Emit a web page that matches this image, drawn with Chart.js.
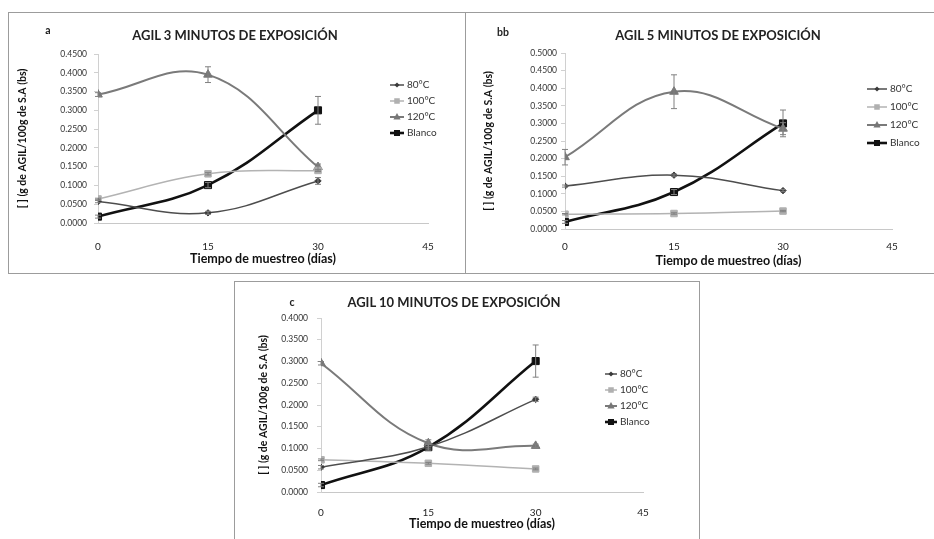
<!DOCTYPE html>
<html>
<head>
<meta charset="utf-8">
<script src="https://cdn.jsdelivr.net/npm/chart.js@4.4.1/dist/chart.umd.min.js"></script>
<style>
  body { margin: 0; background: #fff; width: 934px; height: 539px; overflow: hidden; position: relative; font-family: Lato, sans-serif; }
  .panel { position: absolute; border: 1px solid #9c9c9c; background: #fff; }
  .panel canvas { position: absolute; left: 0; top: 0; }
  .ttl { position: absolute; font-weight: bold; font-size: 13px; color: #222; white-space: nowrap; transform: translate(-50%, -50%); }
  .tag { position: absolute; font-weight: bold; font-size: 10.5px; color: #222; transform: translate(-50%, -50%); }
</style>
</head>
<body>

<div class="panel" style="left:8px; top:12px; width:456px; height:260px;">
  <canvas id="chartA" width="456" height="260"></canvas>
  <div class="tag" style="left:39px; top:17px;">a</div>
  <div class="ttl" style="left:226px; top:22px;">AGIL 3 MINUTOS DE EXPOSICIÓN</div>
</div>

<div class="panel" style="left:465px; top:12px; width:470px; height:260px;">
  <canvas id="chartB" width="470" height="260"></canvas>
  <div class="tag" style="left:37px; top:19px;">bb</div>
  <div class="ttl" style="left:252px; top:22px;">AGIL 5 MINUTOS DE EXPOSICIÓN</div>
</div>

<div class="panel" style="left:234px; top:281px; width:464px; height:262px;">
  <canvas id="chartC" width="464" height="260"></canvas>
  <div class="tag" style="left:57px; top:20px;">c</div>
  <div class="ttl" style="left:219px; top:20px;">AGIL 10 MINUTOS DE EXPOSICIÓN</div>
</div>

<script>
// ---- data ----
const days = [0, 15, 30]
const seriesNames = ["80°C", "100°C", "120°C", "Blanco"]

// a: 3 minutos
const a80 = [0.057, 0.027, 0.112]
const a100 = [0.064, 0.131, 0.140]
const a120 = [0.342, 0.395, 0.149]
const aBlanco = [0.017, 0.101, 0.300]
const a80Err = [0.003, 0.004, 0.009]
const a100Err = [0.002, 0.003, 0.003]
const a120Err = [0.005, 0.021, 0.008]
const aBlancoErr = [0.004, 0.007, 0.037]

// b: 5 minutos
const b80 = [0.122, 0.153, 0.109]
const b100 = [0.042, 0.044, 0.051]
const b120 = [0.204, 0.390, 0.285]
const bBlanco = [0.020, 0.105, 0.300]
const b80Err = [0.003, 0.003, 0.003]
const b100Err = [0.002, 0.002, 0.002]
const b120Err = [0.022, 0.048, 0.017]
const bBlancoErr = [0.004, 0.007, 0.038]

// c: 10 minutos
const c80 = [0.057, 0.104, 0.213]
const c100 = [0.074, 0.066, 0.053]
const c120 = [0.296, 0.112, 0.106]
const cBlanco = [0.016, 0.103, 0.301]
const c80Err = [0.004, 0.005, 0.005]
const c100Err = [0.002, 0.002, 0.002]
const c120Err = [0.004, 0.008, 0.004]
const cBlancoErr = [0.004, 0.007, 0.037]

// ---- series look ----
const looks = [
    { line: "#4d4d4d", fill: "#3a3a3a", width: 1.5, point: "rectRot", r: 3.2 },
    { line: "#b3b3b3", fill: "#b0b0b0", width: 1.5, point: "rect", r: 4.6 },
    { line: "#7a7a7a", fill: "#777777", width: 2, point: "triangle", r: 5 },
    { line: "#111111", fill: "#111111", width: 2.6, point: "rect", r: 5 }
]

// ---- small marker helper for the legend ----
function marker(ctx, style, x, y, r, color) {
    ctx.save()
    ctx.fillStyle = color
    ctx.beginPath()
    if (style === "rect") {
        let s = r * 0.75
        ctx.rect(x - s, y - s, s * 2, s * 2)
    } else if (style === "rectRot") {
        ctx.moveTo(x, y - r); ctx.lineTo(x + r, y); ctx.lineTo(x, y + r); ctx.lineTo(x - r, y)
        ctx.closePath()
    } else {
        ctx.moveTo(x, y - r); ctx.lineTo(x + r * 0.9, y + r * 0.6); ctx.lineTo(x - r * 0.9, y + r * 0.6)
        ctx.closePath()
    }
    ctx.fill()
    ctx.restore()
}

// legend drawn inside the canvas at a fixed spot (Excel style)
const sideLegend = {
    id: "sideLegend",
    afterDraw(chart, args, opts) {
        const ctx = chart.ctx
        ctx.save()
        ctx.font = "10px Lato, sans-serif"
        ctx.textBaseline = "middle"
        chart.data.datasets.forEach((ds, k) => {
            let y = opts.y + k * opts.gap
            ctx.strokeStyle = looks[k].line
            ctx.lineWidth = looks[k].width
            ctx.beginPath()
            ctx.moveTo(opts.x, y)
            ctx.lineTo(opts.x + opts.len, y)
            ctx.stroke()
            marker(ctx, looks[k].point, opts.x + opts.len / 2, y, looks[k].r * 0.8, looks[k].fill)
            ctx.fillStyle = "#333"
            ctx.fillText(ds.label, opts.x + opts.len + 3, y)
        })
        ctx.restore()
    }
}

// vertical error bars from the errs arrays
const errorBars = {
    id: "errorBars",
    afterDatasetsDraw(chart) {
        const ctx = chart.ctx
        const yScale = chart.scales.y
        ctx.save()
        ctx.strokeStyle = "#808080"
        ctx.lineWidth = 1
        chart.data.datasets.forEach((ds, k) => {
            const meta = chart.getDatasetMeta(k)
            ds.data.forEach((p, i) => {
                let e = ds.errs[i]
                let x = meta.data[i].x
                let y1 = yScale.getPixelForValue(p.y + e)
                let y2 = yScale.getPixelForValue(p.y - e)
                ctx.beginPath()
                ctx.moveTo(x, y1); ctx.lineTo(x, y2)
                ctx.moveTo(x - 3, y1); ctx.lineTo(x + 3, y1)
                ctx.moveTo(x - 3, y2); ctx.lineTo(x + 3, y2)
                ctx.stroke()
            })
        })
        ctx.restore()
    }
}

function buildChart(id, cfg) {

    const datasets = cfg.values.map((vals, k) => ({
        label: seriesNames[k],
        data: days.map((d, i) => ({ x: d, y: vals[i] })),
        errs: cfg.errs[k],
        borderColor: looks[k].line,
        backgroundColor: looks[k].fill,
        pointBackgroundColor: looks[k].fill,
        pointBorderColor: looks[k].fill,
        pointBorderWidth: 1,
        borderWidth: looks[k].width,
        pointStyle: looks[k].point,
        pointRadius: looks[k].r,
        tension: 0.4,
        fill: false
    }))

    return new Chart(document.getElementById(id), {
        type: "line",
        data: { datasets: datasets },
        plugins: [errorBars, sideLegend],
        options: {
            responsive: false,
            animation: false,
            layout: { padding: { left: 0, right: cfg.padRight, top: cfg.top, bottom: 0 } },
            plugins: {
                legend: { display: false },
                title: { display: false },
                tooltip: { enabled: false },
                sideLegend: cfg.legend
            },
            scales: {
                x: {
                    type: "linear",
                    min: 0,
                    max: 45,
                    ticks: { stepSize: 15, padding: cfg.xPad, color: "#222", font: { family: "Lato", size: 10 } },
                    grid: { display: false, drawTicks: false },
                    border: { display: true, color: "#c8c8c8", dash: [2, 2] },
                    title: {
                        display: true,
                        text: "Tiempo de muestreo (días)",
                        color: "#111",
                        font: { family: "Lato", size: 12.5, weight: "bold" },
                        padding: { top: 0, bottom: cfg.xTitlePad }
                    },
                    afterFit: (s) => { s.height = cfg.xHeight }
                },
                y: {
                    min: 0,
                    max: cfg.yMax,
                    ticks: {
                        stepSize: 0.05,
                        padding: cfg.yPad,
                        color: "#333",
                        font: { family: "Lato", size: 8.5 },
                        callback: (v) => v.toFixed(4)
                    },
                    grid: { drawOnChartArea: false, drawTicks: true, tickLength: 4, color: "#d0d0d0" },
                    border: { color: "#d0d0d0" },
                    title: {
                        display: true,
                        text: "[ ] (g de AGIL/100g de S.A (bs)",
                        color: "#111",
                        font: { family: "Lato", size: 10.5, weight: "bold" },
                        padding: { top: cfg.yTitlePad, bottom: 0 }
                    },
                    afterFit: (s) => { s.width = cfg.yWidth }
                }
            }
        }
    })
}

buildChart("chartA", {
    values: [a80, a100, a120, aBlanco],
    errs: [a80Err, a100Err, a120Err, aBlancoErr],
    yMax: 0.45,
    top: 41, padRight: 37, xHeight: 50, yWidth: 89,
    xPad: 18, xTitlePad: 7, yPad: 7, yTitlePad: 7,
    legend: { x: 381, y: 72, gap: 16, len: 14 }
})

buildChart("chartB", {
    values: [b80, b100, b120, bBlanco],
    errs: [b80Err, b100Err, b120Err, bBlancoErr],
    yMax: 0.5,
    top: 40, padRight: 44, xHeight: 44, yWidth: 99,
    xPad: 12, xTitlePad: 5, yPad: 4, yTitlePad: 16,
    legend: { x: 401, y: 76, gap: 18, len: 20 }
})

buildChart("chartC", {
    values: [c80, c100, c120, cBlanco],
    errs: [c80Err, c100Err, c120Err, cBlancoErr],
    yMax: 0.4,
    top: 36, padRight: 56, xHeight: 50, yWidth: 86,
    xPad: 15, xTitlePad: 11, yPad: 9, yTitlePad: 22,
    legend: { x: 370, y: 92, gap: 16, len: 12 }
})
</script>
</body>
</html>
